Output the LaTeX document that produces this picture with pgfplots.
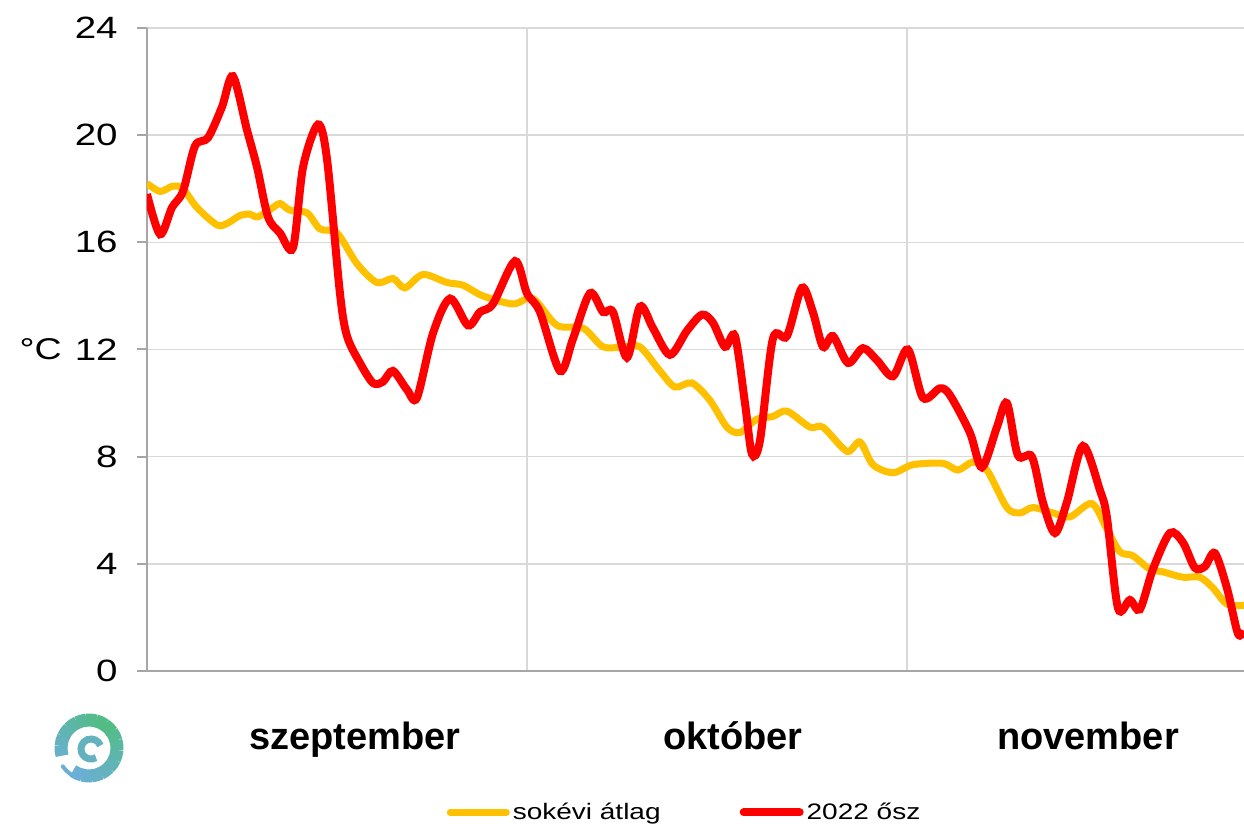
\documentclass[border=0pt]{standalone}
\usepackage{fontspec}
\setmainfont{Liberation Sans}
\newfontfamily\widefont{Liberation Sans}[FakeStretch=1.25]
\usepackage{pgfplots}
\pgfplotsset{compat=1.18}
\definecolor{gold}{HTML}{FFC000}
\definecolor{axisgray}{HTML}{A6A6A6}
\definecolor{gridgray}{HTML}{D9D9D9}
\definecolor{logogreen}{HTML}{52BC86}
\definecolor{logoblue}{HTML}{6BAED6}
\begin{document}
\begin{tikzpicture}
\useasboundingbox (-73.5pt,-76.5pt) rectangle (548.5pt,335.5pt);
\begin{axis}[
  at={(0,0)}, anchor=south west,
  scale only axis, width=548.5pt, height=321.5pt,
  xmin=0, xmax=90, ymin=0, ymax=24,
  axis x line=bottom, axis y line=left,
  axis line style={draw=axisgray, line width=1pt, -},
  ytick={0,4,...,24},
  xtick={31.17,62.33}, xticklabels={},
  xtick style={draw=none},
  ytick style={draw=axisgray, line width=1pt},
  tick align=outside, major tick length=5pt,
  xmajorgrids, ymajorgrids,
  major grid style={draw=gridgray, line width=0.8pt},
  /pgf/number format/assume math mode=true,
  yticklabel style={font=\widefont\fontsize{15.4}{18}\selectfont, inner sep=0pt, xshift=-9.5pt},
  legend style={at={(0.4905,-0.22)}, anchor=center, draw=none, fill=none,
    font=\widefont\fontsize{11.2}{13}\selectfont,
    nodes={inner xsep=1.5pt, inner ysep=0pt},
    /tikz/every even column/.append style={column sep=38pt}},
  legend columns=2,
  legend image code/.code={\draw[#1, line cap=round] (0pt,0pt) -- (28pt,0pt);},
]
\addplot[gold, line width=3.5pt, smooth, tension=0.5] coordinates {
(0,18.2) (1.07,17.9) (2.13,18.1) (2.95,18.0) (4.1,17.3) (5.74,16.65) (6.56,16.7)
(7.63,17.0) (8.45,17.05) (9.1,16.95) (10.34,17.3) (10.91,17.45) (11.73,17.2)
(13.13,17.1) (14.19,16.5) (15.59,16.35) (17.23,15.2) (18.87,14.5) (20.18,14.65)
(21.16,14.3) (22.64,14.8) (24.61,14.5) (25.92,14.4) (27.56,14.0) (30.02,13.7)
(31.67,13.9) (33.63,12.9) (35.77,12.8) (37.41,12.1) (39.05,12.1) (40.44,12.1)
(42.08,11.2) (43.31,10.6) (44.71,10.75) (46.19,10.1) (47.58,9.1) (48.65,8.9)
(50.04,9.4) (51.35,9.5) (52.5,9.7) (54.39,9.1) (55.46,9.1) (57.42,8.2)
(58.49,8.55) (59.56,7.7) (61.2,7.4) (62.84,7.7) (65.3,7.75) (66.53,7.5)
(67.76,7.8) (68.91,7.5) (70.55,6.1) (71.62,5.9) (72.68,6.1) (74.32,5.9)
(75.72,5.75) (77.52,6.25) (78.75,5.3) (79.82,4.45) (80.89,4.3) (82.28,3.8)
(83.35,3.7) (84.99,3.5) (86.38,3.5) (87.45,3.1) (88.6,2.5) (90,2.45)
};
\addlegendentry{sokévi átlag}
\addplot[red, line width=4pt, smooth, tension=0.5] coordinates {
(0,17.8) (1.07,16.3) (2.05,17.3) (2.95,17.9) (3.94,19.6) (5.0,19.9) (6.15,21.05)
(7.05,22.2) (8.2,20.2) (9.03,18.8) (9.93,16.95) (10.91,16.35) (11.98,15.8)
(12.8,18.8) (14.03,20.4) (14.77,19.1) (15.83,14.1) (16.41,12.5) (17.47,11.5)
(18.54,10.75) (19.36,10.8) (20.18,11.2) (21.33,10.5) (22.15,10.2) (23.46,12.6)
(24.86,13.9) (26.33,12.9) (27.32,13.4) (28.38,13.7) (30.19,15.3) (31.17,14.1)
(32.24,13.4) (33.88,11.2) (34.95,12.4) (36.34,14.1) (37.41,13.4) (38.23,13.4)
(39.38,11.7) (40.44,13.6) (41.51,12.8) (42.9,11.8) (44.3,12.7) (45.53,13.3)
(46.43,13.0) (47.42,12.1) (48.24,12.5) (49.06,10.0) (49.63,8.1) (50.29,8.6)
(51.35,12.4) (52.5,12.5) (53.73,14.3) (54.63,13.4) (55.46,12.1) (56.28,12.5)
(57.51,11.5) (58.74,12.05) (59.89,11.6) (61.2,11.0) (62.43,12.0) (63.66,10.2)
(65.05,10.55) (65.87,10.3) (67.51,8.9) (68.5,7.6) (69.73,9.1) (70.55,10.0)
(71.45,8.05) (72.6,8.0) (73.5,6.3) (74.49,5.15) (75.47,6.3) (76.78,8.4)
(78.18,6.75) (78.75,5.75) (79.66,2.35) (80.64,2.65) (81.46,2.3) (82.53,3.8)
(83.92,5.15) (84.99,4.8) (85.97,3.85) (86.79,3.9) (87.61,4.4) (88.6,3.1)
(89.5,1.4) (90,1.5)
};
\addlegendentry{2022 ősz}
\end{axis}
% y unit label
\node[anchor=east, inner sep=0pt, font=\widefont\fontsize{15}{18}\selectfont] at (-42.5pt,161pt) {°C};
% month labels
\begin{scope}[every node/.style={font=\bfseries\fontsize{19}{22}\selectfont, inner sep=0pt, anchor=base}]
\node at (104pt,-39.5pt) {szeptember};
\node at (293pt,-39.5pt) {október};
\node at (470.5pt,-39.5pt) {november};
\end{scope}
% logo
\foreach \a/\c in {235/0,255/10,275/20,295/30,315/40,335/55,355/70,375/85,395/100,415/100,435/90,455/75,475/60,495/45,515/30,535/20}{
  \draw[line width=6.5pt, color=logogreen!\c!logoblue] ([shift={(\a:14pt)}]-29pt,-38.5pt) arc[start angle=\a, end angle=\a+21, radius=14pt];
}
\draw[line width=2pt, color=logoblue, line cap=round] ([shift={(215:16pt)}]-29pt,-38.5pt) arc[start angle=215, end angle=240, radius=16pt];
\draw[line width=3.5pt, color=logoblue!70!logogreen] ([shift={(20:5pt)}]-28pt,-39pt) arc[start angle=20, end angle=300, radius=5pt];
\end{tikzpicture}
\end{document}
